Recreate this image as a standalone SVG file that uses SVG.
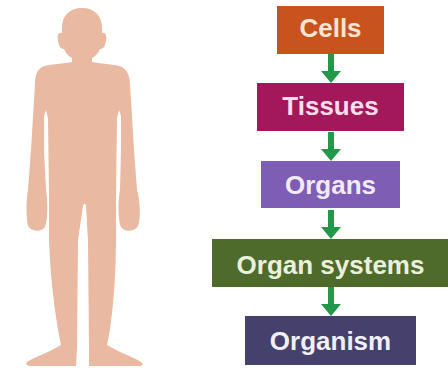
<svg xmlns="http://www.w3.org/2000/svg" width="448" height="374" viewBox="0 0 448 374">
  <style>
    .lbl { font-family: "Liberation Sans", Arial, sans-serif; font-weight: bold; font-size: 26px; text-anchor: middle; }
    .arrow { fill: #22994A; }
  </style>
  <defs>
    <!-- downward block arrow, tip at origin -->
    <path id="down" d="M -3 -29 L 3 -29 L 3 -12 L 10 -12 L 0 0 L -10 -12 L -3 -12 Z"/>
  </defs>
  <rect width="448" height="374" fill="#ffffff"/>

  <!-- human silhouette -->
  <g id="body">
    <path fill="#E9B9A1" d="M 82 8 C 70 8 62 15 62 28 L 62 33 C 58 32 57 36 58 41 C 59 47 61 49 64 49 C 66 54 70 57 72 58 L 72 62 C 62 64 48 64 42 67 C 37 70 35 76 35 84 L 31 150 L 28 190 C 26 200 26 218 28 226 C 31 232 42 232 45 227 C 48 220 48 200 46 190 L 44 150 L 44 116 L 46 110 L 48 118 L 49 195 L 49 240 C 50 270 53 300 58 330 L 61 345 C 50 352 32 358 27 362 C 25 365 28 366 32 366 L 76 366 L 77 348 L 78 240 L 83 206 C 84 203 85 203 86 206 L 88 240 L 89 348 L 89 366 L 139 366 C 143 366 144 364 141 362 C 136 358 118 352 107 345 L 110 330 C 114 300 116 270 116 240 L 116 195 L 117 118 L 119 110 L 121 116 L 121 150 L 120 190 C 118 200 118 220 121 227 C 124 232 135 232 138 226 C 141 218 140 200 137 190 L 134 150 L 130 84 C 130 76 127 70 122 67 C 116 64 102 64 92 62 L 92 58 C 94 57 98 54 100 49 C 103 49 105 47 106 41 C 107 36 106 32 102 33 L 102 28 C 102 15 94 8 82 8 Z"/>
  </g>

  <!-- connectors -->
  <g id="connectors" class="arrow">
    <use href="#down" x="331" y="83"/>
    <use href="#down" x="331" y="161"/>
    <use href="#down" x="331" y="239"/>
    <use href="#down" x="331" y="316"/>
  </g>

  <!-- hierarchy nodes -->
  <g id="cells">
    <rect x="277" y="6" width="107" height="48" fill="#C8531F"/>
    <text class="lbl" x="330.5" y="37" fill="#F6E4D4">Cells</text>
  </g>
  <g id="tissues">
    <rect x="257" y="83" width="147" height="48" fill="#A2185B"/>
    <text class="lbl" x="330.5" y="115" fill="#F7DDE9">Tissues</text>
  </g>
  <g id="organs">
    <rect x="261" y="161" width="139" height="47" fill="#7E5DB5"/>
    <text class="lbl" x="330.5" y="194" fill="#F1EAF7">Organs</text>
  </g>
  <g id="organ-systems">
    <rect x="212" y="239" width="236" height="48" fill="#4F6B2B"/>
    <text class="lbl" x="330.5" y="274" fill="#EAF0DC">Organ systems</text>
  </g>
  <g id="organism">
    <rect x="245" y="316" width="171" height="49" fill="#45406C"/>
    <text class="lbl" x="330.5" y="350" fill="#F0EFF5">Organism</text>
  </g>
</svg>
